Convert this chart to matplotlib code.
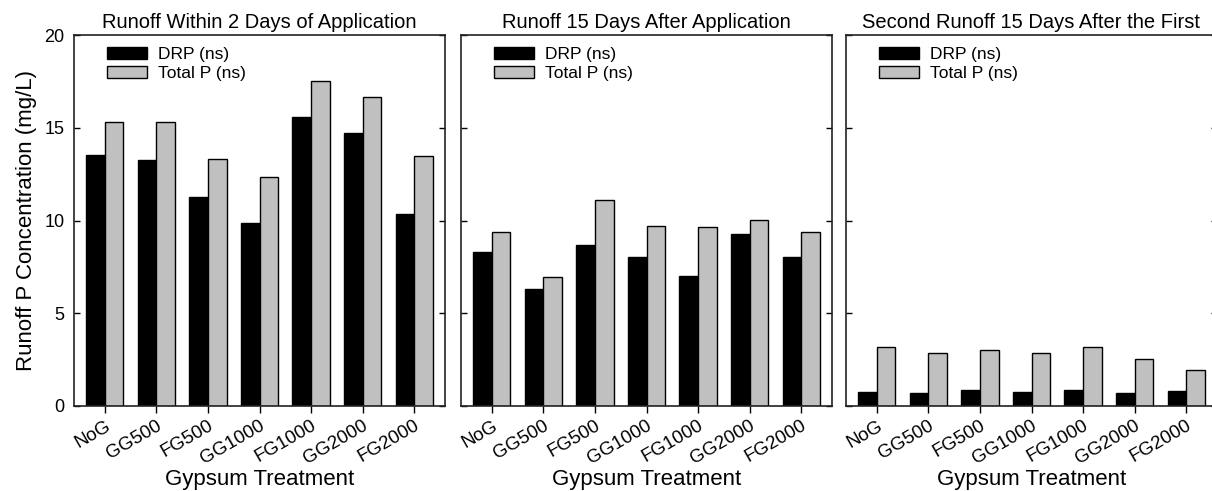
import numpy as np
import matplotlib
matplotlib.use('Agg')
import matplotlib.pyplot as plt

plt.rcParams['font.family'] = ['Liberation Sans', 'DejaVu Sans']

treatments = ['NoG', 'GG500', 'FG500', 'GG1000', 'FG1000', 'GG2000', 'FG2000']
titles = ['Runoff Within 2 Days of Application',
          'Runoff 15 Days After Application',
          'Second Runoff 15 Days After the First']

# DRP and Total P (mg/L) for each runoff event
drp_1 = [13.52, 13.27, 11.27, 9.86, 15.58, 14.70, 10.34]
tp_1 = [15.31, 15.31, 13.30, 12.35, 17.54, 16.64, 13.50]
drp_2 = [8.28, 6.32, 8.67, 8.03, 7.02, 9.28, 8.04]
tp_2 = [9.39, 6.93, 11.10, 9.71, 9.64, 10.04, 9.39]
drp_3 = [0.74, 0.72, 0.88, 0.74, 0.88, 0.72, 0.79]
tp_3 = [3.20, 2.87, 3.03, 2.84, 3.20, 2.51, 1.92]

drp_all = [drp_1, drp_2, drp_3]
tp_all = [tp_1, tp_2, tp_3]

fig = plt.figure(figsize=(12.12, 4.91), dpi=100)
lefts = [74 / 1212, 461 / 1212, 846 / 1212]
w = 371 / 1212
b = 1 - 406 / 491
h = 371 / 491

x = np.arange(len(treatments))
bw = 0.36

for i in range(3):
    ax = fig.add_axes([lefts[i], b, w, h])
    ax.bar(x - bw / 2, drp_all[i], bw, color='black', edgecolor='black',
           linewidth=1.0, label='DRP (ns)')
    ax.bar(x + bw / 2, tp_all[i], bw, color='#c0c0c0', edgecolor='black',
           linewidth=1.0, label='Total P (ns)')
    ax.set_xlim(-0.6, 6.6)
    ax.set_ylim(0, 20)
    ax.set_yticks([0, 5, 10, 15, 20])
    ax.set_xticks(x)
    ax.set_xticklabels(treatments, rotation=30, ha='right',
                       rotation_mode='anchor', fontsize=13.5)
    ax.tick_params(axis='x', direction='out', length=5, width=1, pad=3)
    for s in ax.spines.values():
        s.set_linewidth(1.2)
        s.set_color('#222222')
    ax.tick_params(axis='y', direction='in', length=4.5, width=1,
                   left=True, right=True, labelsize=13, pad=7,
                   labelleft=(i == 0))
    if i == 0:
        ax.set_ylabel('Runoff P Concentration (mg/L)', fontsize=16, labelpad=5)
    ax.set_xlabel('Gypsum Treatment', fontsize=16, labelpad=1)
    ax.set_title(titles[i], fontsize=14.5, pad=5)
    ax.legend(loc='upper left', bbox_to_anchor=(0.057, 1.0), frameon=False,
              fontsize=12.5, handlelength=2.3, handleheight=0.7,
              labelspacing=0.2, handletextpad=0.6, borderaxespad=0.3)

plt.savefig('out.png', dpi=100)
